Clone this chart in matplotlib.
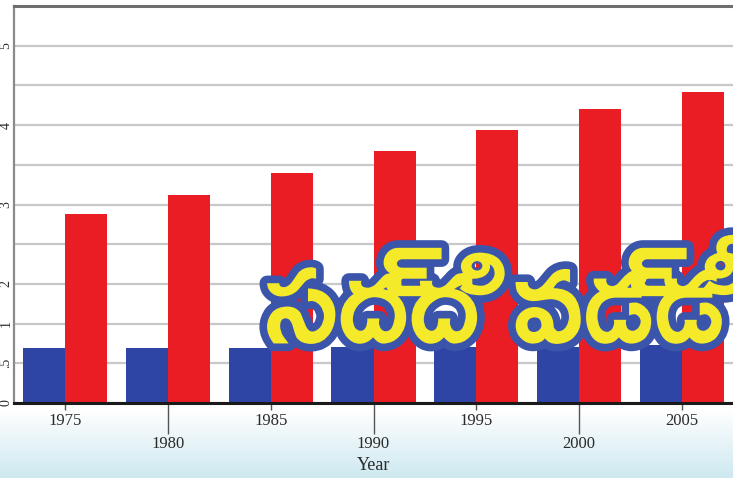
import numpy as np
import matplotlib
matplotlib.use('Agg')
import matplotlib.pyplot as plt
import matplotlib.patheffects as pe
from matplotlib import font_manager

# data (in grid steps of the value axis)
years = [1975, 1980, 1985, 1990, 1995, 2000, 2005]
blue_vals = [1.38, 1.38, 1.38, 1.41, 1.42, 1.41, 1.46]
red_vals = [4.75, 5.25, 5.8, 6.35, 6.88, 7.4, 7.83]
ytick_pos = [0, 1, 2, 3, 4, 5, 6, 7, 8, 9]
ytick_labels = ['0', '.5', '1', '2', '', '3', '', '4', '', '5']
overlay_text = 'సద్ది వడ్డీ'

# telugu display font for the overlay, if there is one
tel_font = None
for p in font_manager.findSystemFonts():
    if p.endswith('Ramabhadra-Regular.ttf'):
        tel_font = font_manager.FontProperties(fname=p)
if tel_font is None:
    tel_font = font_manager.FontProperties(family='DejaVu Sans')

fig = plt.figure(figsize=(7.33, 4.78), dpi=100)

# light blue fade at the bottom of the picture
bg = fig.add_axes([0, 0, 1, 1], zorder=-5)
grad = np.linspace(0, 1, 300).reshape(-1, 1)
fade = matplotlib.colors.LinearSegmentedColormap.from_list(
    'fade', [(0, '#cfe9f1'), (0.03, '#d9eef4'), (0.09, '#eef7fa'),
             (0.14, '#ffffff'), (1, '#ffffff')])
bg.imshow(grad, aspect='auto', extent=[0, 1, 0, 1], cmap=fade, origin='lower')
bg.axis('off')

ax = fig.add_axes([14 / 733, 1 - 403 / 478, 1 - 14 / 733, 397 / 478])
ax.set_facecolor('white')

x = np.arange(len(years))
w = 0.41
ax.bar(x - w, blue_vals, width=w, align='edge', color='#2f45a5', zorder=2)
ax.bar(x, red_vals, width=w, align='edge', color='#ea1c24', zorder=2)

ax.set_xlim(-0.5, 6.5)
ax.set_ylim(0, 10)

ax.set_yticks(ytick_pos)
ax.set_yticklabels(ytick_labels, rotation=90, va='center', fontsize=10,
                   family='Liberation Serif', color='#2a2a2a')
ax.tick_params(axis='y', length=0, pad=1)
ax.yaxis.grid(True, color='#c8c8c8', linewidth=1.6, zorder=0)
ax.set_axisbelow(True)

# alternate year labels on two rows
ax.set_xticks(x[::2])
ax.set_xticklabels([str(y) for y in years[::2]])
ax.set_xticks(x[1::2], minor=True)
ax.set_xticklabels([str(y) for y in years[1::2]], minor=True)
ax.tick_params(axis='x', which='major', length=5, width=1, pad=2,
               color='#555555', labelsize=12, labelcolor='#2a2a2a')
ax.tick_params(axis='x', which='minor', length=22, width=1, pad=2,
               color='#555555', labelsize=12, labelcolor='#2a2a2a')
for lab in ax.get_xticklabels(which='both'):
    lab.set_family('Liberation Serif')
ax.set_xlabel('Year', family='Liberation Serif', fontsize=13,
              color='#2a2a2a', labelpad=3)

ax.spines['bottom'].set_color('#1a1a1a')
ax.spines['bottom'].set_linewidth(2.2)
ax.spines['bottom'].set_zorder(3)
ax.spines['top'].set_color('#6e6e6e')
ax.spines['top'].set_linewidth(2.2)
ax.spines['left'].set_color('#8a8a8a')
ax.spines['left'].set_linewidth(1.6)
ax.spines['right'].set_visible(False)

# yellow/blue logo text laid over the bars
fig.text(0.675, 0.35, overlay_text, fontproperties=tel_font, fontsize=90,
         color='#f4ea2a', ha='center', va='center', zorder=10,
         path_effects=[pe.withStroke(linewidth=11, foreground='#3b55ab')])

fig.savefig('out.png')
